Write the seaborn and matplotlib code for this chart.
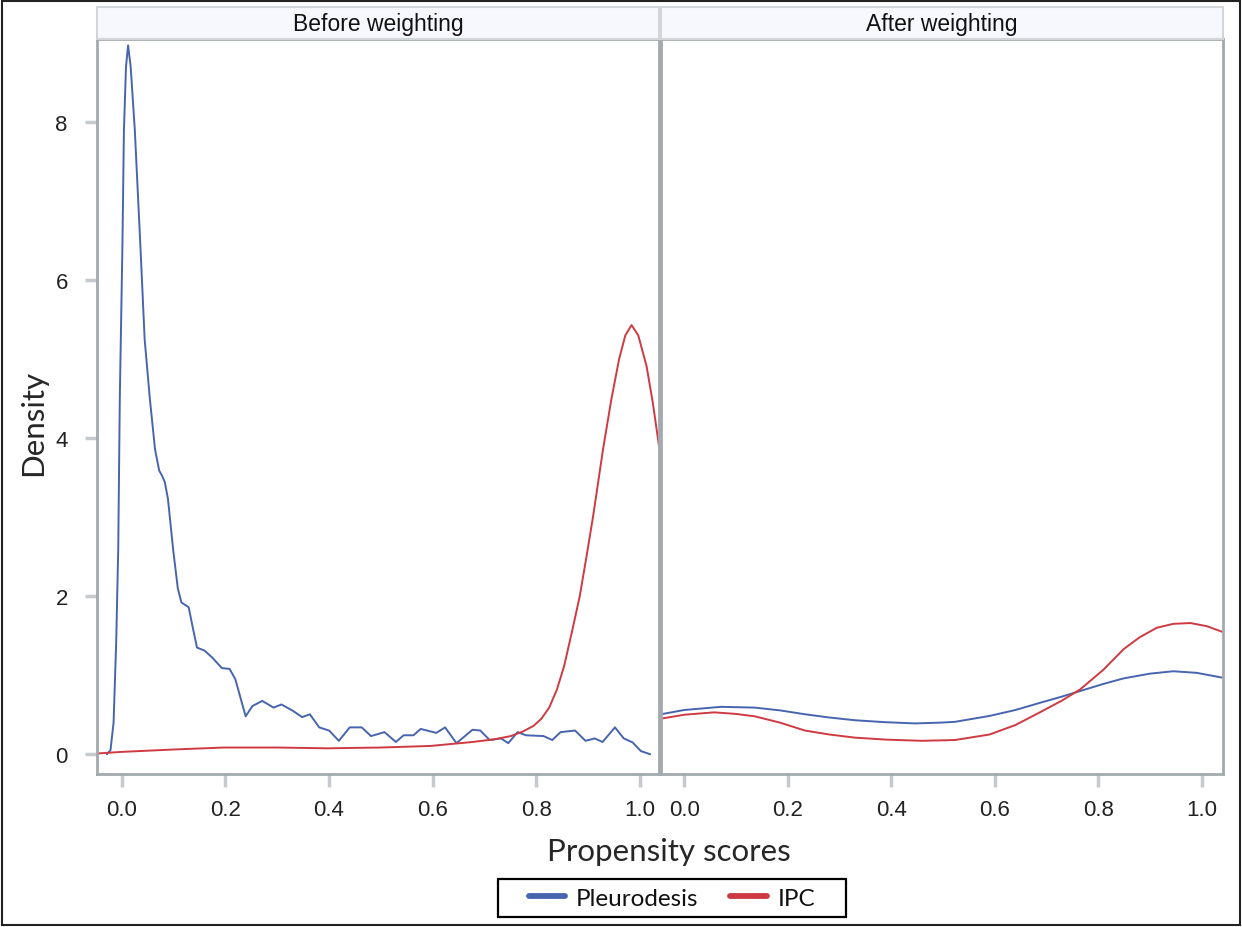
import numpy as np
import pandas as pd
import matplotlib
matplotlib.use("Agg")
import matplotlib.pyplot as plt
import seaborn as sns
from matplotlib.patches import Rectangle
from matplotlib.lines import Line2D

# values
# Before weighting - Pleurodesis
bw_pl_x = [-0.029, -0.022, -0.016, -0.011, -0.007, -0.004, 0.001, 0.004, 0.008, 0.012,
           0.017, 0.025, 0.036, 0.044, 0.054, 0.064, 0.072, 0.078, 0.083, 0.089,
           0.099, 0.108, 0.115, 0.129, 0.137, 0.145, 0.16, 0.175, 0.193, 0.208,
           0.219, 0.239, 0.252, 0.271, 0.293, 0.308, 0.33, 0.348, 0.363, 0.381,
           0.40, 0.419, 0.44, 0.463, 0.481, 0.507, 0.529, 0.544, 0.563, 0.577,
           0.607, 0.624, 0.646, 0.677, 0.692, 0.71, 0.732, 0.746, 0.764, 0.78,
           0.814, 0.831, 0.847, 0.875, 0.895, 0.913, 0.928, 0.952, 0.969, 0.986,
           1.002, 1.02]
bw_pl_y = [0.0, 0.05, 0.4, 1.4, 2.6, 4.5, 6.4, 7.9, 8.7, 8.97,
           8.7, 7.9, 6.4, 5.25, 4.5, 3.86, 3.59, 3.52, 3.44, 3.23,
           2.59, 2.1, 1.92, 1.86, 1.6, 1.35, 1.31, 1.22, 1.09, 1.08,
           0.95, 0.48, 0.61, 0.675, 0.59, 0.63, 0.55, 0.47, 0.505, 0.34,
           0.30, 0.17, 0.34, 0.34, 0.23, 0.28, 0.155, 0.24, 0.24, 0.32,
           0.27, 0.34, 0.14, 0.31, 0.30, 0.18, 0.2, 0.14, 0.28, 0.24,
           0.23, 0.18, 0.28, 0.30, 0.17, 0.20, 0.155, 0.34, 0.2, 0.15,
           0.04, 0.0]

# Before weighting - IPC
bw_ipc_x = [-0.047, 0.0, 0.1, 0.197, 0.3, 0.396, 0.5, 0.596, 0.677, 0.72,
            0.751, 0.775, 0.795, 0.81, 0.825, 0.84, 0.854, 0.87, 0.884, 0.897,
            0.91, 0.929, 0.945, 0.96, 0.972, 0.984, 0.997, 1.013, 1.025, 1.037]
bw_ipc_y = [0.01, 0.03, 0.06, 0.085, 0.085, 0.075, 0.085, 0.105, 0.155, 0.19,
            0.23, 0.29, 0.36, 0.45, 0.59, 0.82, 1.12, 1.58, 2.0, 2.5,
            3.02, 3.86, 4.49, 5.0, 5.3, 5.43, 5.3, 4.91, 4.45, 3.9]

# After weighting - Pleurodesis
aw_pl_x = [-0.045, 0.0, 0.071, 0.136, 0.185, 0.233, 0.28, 0.33, 0.39, 0.446,
           0.494, 0.523, 0.59, 0.64, 0.687, 0.73, 0.765, 0.81, 0.849, 0.9,
           0.945, 0.99, 1.039]
aw_pl_y = [0.506, 0.56, 0.60, 0.59, 0.555, 0.506, 0.465, 0.43, 0.405, 0.39,
           0.40, 0.41, 0.485, 0.56, 0.65, 0.73, 0.80, 0.89, 0.96, 1.02,
           1.05, 1.03, 0.97]

# After weighting - IPC
aw_ipc_x = [-0.045, 0.0, 0.058, 0.1, 0.136, 0.185, 0.233, 0.28, 0.33, 0.39,
            0.459, 0.523, 0.59, 0.64, 0.687, 0.73, 0.765, 0.81, 0.849, 0.88,
            0.913, 0.945, 0.978, 1.01, 1.039]
aw_ipc_y = [0.45, 0.50, 0.53, 0.51, 0.48, 0.40, 0.30, 0.25, 0.21, 0.185,
            0.17, 0.18, 0.25, 0.37, 0.53, 0.68, 0.82, 1.07, 1.33, 1.48,
            1.60, 1.65, 1.66, 1.62, 1.55]

groups = ["Pleurodesis", "IPC"]
panels = ["Before weighting", "After weighting"]
x_ticks = [0.0, 0.2, 0.4, 0.6, 0.8, 1.0]
y_ticks = [0, 2, 4, 6, 8]


def frame(x, y, group, panel):
    return pd.DataFrame({"score": x, "density": y, "group": group, "panel": panel})


df = pd.concat([
    frame(bw_pl_x, bw_pl_y, "Pleurodesis", "Before weighting"),
    frame(bw_ipc_x, bw_ipc_y, "IPC", "Before weighting"),
    frame(aw_pl_x, aw_pl_y, "Pleurodesis", "After weighting"),
    frame(aw_ipc_x, aw_ipc_y, "IPC", "After weighting"),
], ignore_index=True)

sns.set_style("white")
plt.rcParams["font.family"] = ["Liberation Sans", "DejaVu Sans"]

palette = {"Pleurodesis": "#4764ae", "IPC": "#cf3a42"}
frame_col = "#a3aaad"
tick_col = "#c6cacc"
label_font = ["Lato", "DejaVu Sans"]

W, H = 1242, 928
fig = plt.figure(figsize=(W / 100, H / 100), dpi=100)

# panel positions in pixels (left, right)
panel_px = [(97, 659), (661, 1223)]
xlims = [(-0.048, 1.037), (-0.045, 1.041)]
top_px, bot_px, head_top = 40, 775, 8

for i, (panel, (l, r)) in enumerate(zip(panels, panel_px)):
    ax = fig.add_axes([l / W, 1 - bot_px / H, (r - l) / W, (bot_px - top_px) / H])
    sns.lineplot(data=df[df["panel"] == panel], x="score", y="density", hue="group",
                 hue_order=groups, palette=palette, estimator=None, sort=True,
                 linewidth=1.4, legend=False, ax=ax)
    ax.set_xlim(*xlims[i])
    ax.set_ylim(-0.25, 9.05)
    ax.set_xticks(x_ticks)
    ax.set_xticklabels(["%.1f" % t for t in x_ticks])
    ax.set_xlabel("")
    ax.set_ylabel("")
    for s in ax.spines.values():
        s.set_color(frame_col)
        s.set_linewidth(2)
    ax.tick_params(axis="x", bottom=True, direction="out", length=9, width=2.5,
                   color=tick_col, labelsize=16, pad=9, labelcolor="#222222")
    if i == 0:
        ax.set_yticks(y_ticks)
        ax.tick_params(axis="y", left=True, direction="out", length=9, width=2.5,
                       color=tick_col, labelsize=16, pad=12, labelcolor="#222222")
    else:
        ax.set_yticks([])
    # header strip
    hx = fig.add_axes([l / W, 1 - top_px / H, (r - l) / W, (top_px - head_top) / H])
    hx.set_facecolor("#f7f8fd")
    hx.set_xticks([])
    hx.set_yticks([])
    for s in hx.spines.values():
        s.set_color("#d2d6d8")
        s.set_linewidth(1.5)
    hx.text(0.5, 0.47, panel, ha="center", va="center", fontsize=16.5, color="#111111")

fig.text(669 / W, 1 - 852 / H, "Propensity scores", ha="center", va="center",
         fontsize=22.5, family=label_font)
fig.text(33 / W, 1 - 423 / H, "Density", ha="center", va="center", rotation=90,
         fontsize=22.5, family=label_font)

handles = [Line2D([], [], color=palette[g], lw=4.2) for g in groups]
leg = fig.legend(handles, groups, loc="center", bbox_to_anchor=(672 / W, 1 - 899 / H),
                 ncol=2, frameon=False, handlelength=1.5, columnspacing=1.3,
                 handletextpad=0.45, prop={"family": label_font, "size": 17.5})
for t in leg.get_texts():
    t.set_color("#111111")

# legend box and outer border
fig.patches.append(Rectangle((498 / W, 1 - 918 / H), 348 / W, 38 / H, transform=fig.transFigure,
                             fill=False, edgecolor="black", linewidth=1.6))
fig.patches.append(Rectangle((0.002, 0.002), 0.996, 0.996, transform=fig.transFigure,
                             fill=False, edgecolor="#222222", linewidth=1.5))

fig.savefig("out.png", dpi=100)
